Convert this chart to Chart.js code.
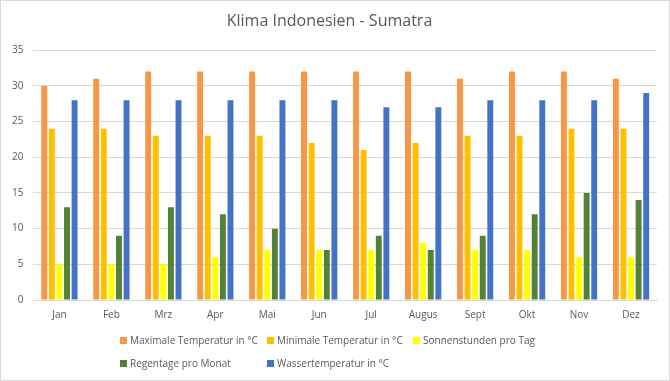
<!DOCTYPE html>
<html>
<head>
<meta charset="utf-8">
<script src="https://cdn.jsdelivr.net/npm/chart.js@4/dist/chart.umd.min.js"></script>
<style>
  html, body { margin: 0; padding: 0; background: #fff; }
  #wrap { position: relative; width: 670px; height: 381px; box-sizing: border-box; border: 1px solid #d9d9d9; overflow: hidden; }
  #c { position: absolute; left: 0; top: 0; }
  .leg { position: absolute; font-family: "Open Sans", sans-serif; font-size: 10px; color: #595959; white-space: nowrap; line-height: 12px; }
  .leg span.box { display: inline-block; width: 7px; height: 7px; margin-right: 3px; vertical-align: 0px; }
</style>
</head>
<body>
<div id="wrap">
  <canvas id="c" width="668" height="379"></canvas>
  <div id="legend"></div>
</div>
<script>
const title = "Klima Indonesien - Sumatra";
const months = ["Jan", "Feb", "Mrz", "Apr", "Mai", "Jun", "Jul", "Augus", "Sept", "Okt", "Nov", "Dez"];
const seriesNames = ["Maximale Temperatur in °C", "Minimale Temperatur in °C", "Sonnenstunden pro Tag", "Regentage pro Monat", "Wassertemperatur in °C"];
const maxTemp = [30, 31, 32, 32, 32, 32, 32, 32, 31, 32, 32, 31];
const minTemp = [24, 24, 23, 23, 23, 22, 21, 22, 23, 23, 24, 24];
const sunHours = [5, 5, 5, 6, 7, 7, 7, 8, 7, 7, 6, 6];
const rainDays = [13, 9, 13, 12, 10, 7, 9, 7, 9, 12, 15, 14];
const waterTemp = [28, 28, 28, 28, 28, 28, 27, 27, 28, 28, 28, 29];
const colors = ["#F79646", "#FFC000", "#FFFF00", "#548235", "#4472C4"];
const seriesData = [maxTemp, minTemp, sunHours, rainDays, waterTemp];

const datasets = seriesNames.map((n, i) => ({
  label: n,
  data: seriesData[i],
  backgroundColor: colors[i],
  borderWidth: 0,
  categoryPercentage: 0.73,
  barPercentage: 0.78
}));

new Chart(document.getElementById("c"), {
  type: "bar",
  data: { labels: months, datasets: datasets },
  options: {
    responsive: false,
    maintainAspectRatio: false,
    devicePixelRatio: 1,
    animation: false,
    layout: { padding: { left: 1, right: 12, top: 0, bottom: 58 } },
    plugins: {
      legend: { display: false },
      tooltip: { enabled: false },
      title: {
        display: true,
        text: title,
        color: "#595959",
        font: { family: "Open Sans", size: 16, weight: "normal" },
        padding: { top: 11, bottom: 19 }
      }
    },
    scales: {
      x: {
        grid: { display: false },
        border: { color: "#d9d9d9" },
        ticks: { color: "#595959", font: { family: "Open Sans", size: 10 }, padding: 1 }
      },
      y: {
        min: 0, max: 35,
        ticks: { stepSize: 5, color: "#595959", font: { family: "Open Sans", size: 10 }, padding: 10 },
        grid: { color: "#d9d9d9", drawTicks: false },
        border: { display: false }
      }
    }
  }
});

// legend (HTML text), laid out in Excel-like columns
const legPos = [[119, 333], [266, 333], [412, 333], [119, 356], [266, 356]];
const legend = document.getElementById("legend");
seriesNames.forEach((n, i) => {
  const d = document.createElement("div");
  d.className = "leg";
  d.style.left = legPos[i][0] + "px";
  d.style.top = legPos[i][1] + "px";
  d.innerHTML = '<span class="box" style="background:' + colors[i] + '"></span>' + n;
  legend.appendChild(d);
});
</script>
</body>
</html>
